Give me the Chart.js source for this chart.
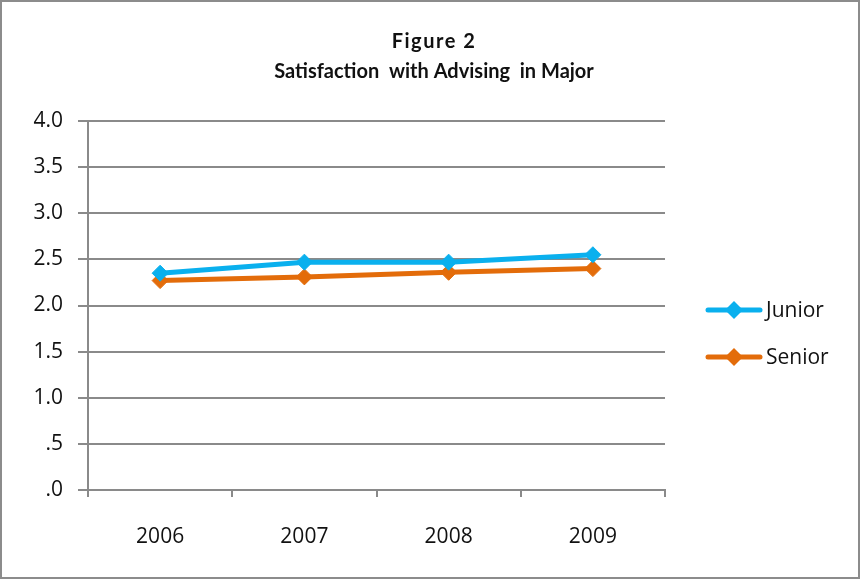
<!DOCTYPE html>
<html>
<head>
<meta charset="utf-8">
<script src="https://cdn.jsdelivr.net/npm/chart.js@4.4.1/dist/chart.umd.min.js"></script>
<style>
  html, body { margin: 0; padding: 0; background: #fff; }
  #wrap { width: 862px; height: 580px; }
</style>
</head>
<body>
<div id="wrap"><canvas id="lineChart" width="862" height="580"></canvas></div>
<script>
// Survey years on the x axis
const years = ['2006', '2007', '2008', '2009'];
// Mean satisfaction scores
const juniorScores = [2.35, 2.47, 2.47, 2.55];
const seniorScores = [2.27, 2.31, 2.36, 2.40];
// Y axis labels as printed (no leading zero)
const yTickLabels = ['.0', '.5', '1.0', '1.5', '2.0', '2.5', '3.0', '3.5', '4.0'];
// Two-line heading
const titleLines = ['Figure 2', 'Satisfaction  with Advising  in Major'];

const gridGray = '#8a8a8a';
const font = 'Open Sans';

// Outer frame around the whole figure
const framePlugin = {
  id: 'frame',
  beforeDraw(chart) {
    const ctx = chart.ctx;
    ctx.save();
    ctx.fillStyle = '#fff';
    ctx.fillRect(0, 0, chart.width, chart.height);
    ctx.strokeStyle = '#8c8c8c';
    ctx.lineWidth = 2;
    ctx.strokeRect(1, 1, chart.width - 4, chart.height - 3);
    ctx.restore();
  }
};

// Title centred over the whole figure (not only the plot area)
const headingPlugin = {
  id: 'heading',
  afterDraw(chart) {
    const ctx = chart.ctx;
    ctx.save();
    ctx.fillStyle = '#111';
    ctx.textAlign = 'center';
    ctx.textBaseline = 'middle';
    ctx.font = 'bold 20px Lato';
    ctx.letterSpacing = '1.5px';
    ctx.fillText(titleLines[0], 434, 42);
    ctx.letterSpacing = '0px';
    ctx.fillText(titleLines[1], 434, 72);
    ctx.restore();
  }
};

// Excel-style legend on the right: line with diamond marker, then label
const sideLegend = {
  id: 'sideLegend',
  afterDraw(chart) {
    const ctx = chart.ctx;
    const rows = [310, 357];
    ctx.save();
    chart.data.datasets.forEach((ds, i) => {
      const y = rows[i];
      ctx.strokeStyle = ds.borderColor;
      ctx.lineWidth = 5;
      ctx.lineCap = 'round';
      ctx.beginPath();
      ctx.moveTo(708, y);
      ctx.lineTo(760, y);
      ctx.stroke();
      ctx.fillStyle = ds.borderColor;
      ctx.beginPath();
      ctx.moveTo(734, y - 9);
      ctx.lineTo(743, y);
      ctx.lineTo(734, y + 9);
      ctx.lineTo(725, y);
      ctx.closePath();
      ctx.fill();
      ctx.fillStyle = '#111';
      ctx.font = '21px "' + font + '"';
      ctx.textBaseline = 'middle';
      ctx.textAlign = 'left';
      ctx.fillText(ds.label, 766, y + 1);
    });
    ctx.restore();
  }
};

new Chart(document.getElementById('lineChart').getContext('2d'), {
  type: 'line',
  data: {
    labels: years,
    datasets: [{
      label: 'Junior',
      data: juniorScores,
      borderColor: '#0ab0ee',
      backgroundColor: '#0ab0ee',
      borderWidth: 5,
      pointStyle: 'rectRot',
      pointRadius: 8,
      pointBorderWidth: 1,
      tension: 0
    }, {
      label: 'Senior',
      data: seniorScores,
      borderColor: '#e36c0a',
      backgroundColor: '#e36c0a',
      borderWidth: 5,
      pointStyle: 'rectRot',
      pointRadius: 8,
      pointBorderWidth: 1,
      tension: 0
    }]
  },
  options: {
    responsive: false,
    animation: false,
    layout: { padding: { left: 0, right: 197, top: 121, bottom: 0 } },
    plugins: {
      legend: { display: false },
      tooltip: { enabled: false },
      title: { display: false }
    },
    scales: {
      x: {
        offset: true,
        grid: {
          offset: true,
          drawOnChartArea: false,
          color: gridGray,
          lineWidth: 2,
          tickLength: 7
        },
        border: { color: gridGray, width: 2 },
        ticks: {
          color: '#111',
          padding: 27,
          font: { family: font, size: 21 }
        },
        afterFit(scale) { scale.height = 90; }
      },
      y: {
        min: 0,
        max: 4,
        ticks: {
          stepSize: 0.5,
          color: '#111',
          padding: 15,
          font: { family: font, size: 21 },
          callback: (v, i) => yTickLabels[i]
        },
        grid: { color: gridGray, lineWidth: 2, tickLength: 10 },
        border: { color: gridGray, width: 2 },
        afterFit(scale) { scale.width = 88; }
      }
    }
  },
  plugins: [framePlugin, headingPlugin, sideLegend]
});
</script>
</body>
</html>
